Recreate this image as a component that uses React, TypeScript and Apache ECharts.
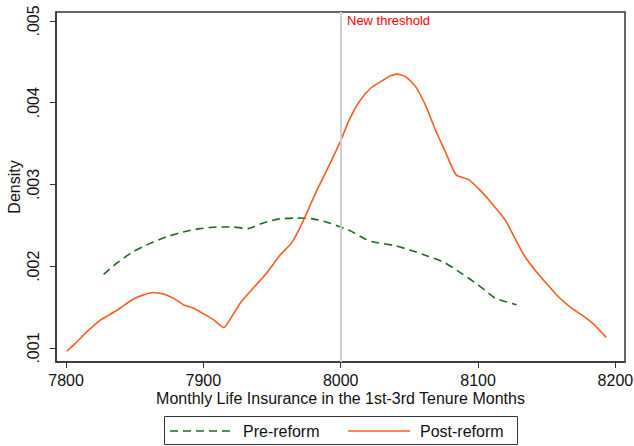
import React, { useEffect, useRef } from "react";
import * as echarts from "echarts";

const xTicks = [7800, 7900, 8000, 8100, 8200];
const yTicks = [0.001, 0.002, 0.003, 0.004, 0.005];
const threshold = 8000;
const seriesNames = ["Pre-reform", "Post-reform"];
const seriesColors = ["#1c6b1c", "#ff5a1f"];

const preX = [7827.4, 7837.1, 7849.1, 7861.2, 7873.3, 7885.4, 7897.5, 7909.6, 7921.6, 7932.5, 7943.4, 7955.5, 7967.6, 7979.6, 7991.7, 8006.2, 8017, 8023, 8040, 8052, 8064, 8076.2, 8088.2, 8100.3, 8112.4, 8119.6, 8128];
const preY = [0.0019, 0.00204, 0.00218, 0.00228, 0.00236, 0.00242, 0.00246, 0.00248, 0.00248, 0.00246, 0.00253, 0.00258, 0.00259, 0.00258, 0.00253, 0.00244, 0.00234, 0.0023, 0.00225, 0.00219, 0.00212, 0.00204, 0.00191, 0.00177, 0.00161, 0.00157, 0.00153];

const postX = [7800.6, 7806.9, 7815.3, 7825, 7831, 7839.5, 7849.1, 7856.4, 7863.6, 7870.9, 7878.1, 7885.4, 7892.6, 7899.9, 7907.1, 7914.9, 7920.5, 7927.7, 7936.2, 7945.8, 7955.5, 7964, 7968.8, 7973.7, 7982.1, 7990.6, 8000.1, 8006.2, 8013.4, 8021.9, 8030.3, 8036.3, 8041.1, 8047.2, 8054.4, 8061.7, 8068.9, 8076.2, 8083.9, 8093.1, 8102.7, 8110, 8119.6, 8126.9, 8134.1, 8142.6, 8149.8, 8158.3, 8167.9, 8177.6, 8184.9, 8193.3];
const postY = [0.00096, 0.00106, 0.0012, 0.00134, 0.0014, 0.00149, 0.0016, 0.00165, 0.00168, 0.00166, 0.00161, 0.00153, 0.00149, 0.00142, 0.00135, 0.00125, 0.00138, 0.00157, 0.00173, 0.00191, 0.00213, 0.00228, 0.00242, 0.00259, 0.00291, 0.0032, 0.00354, 0.00379, 0.00401, 0.00418, 0.00427, 0.00433, 0.00435, 0.00432, 0.0042, 0.00397, 0.00367, 0.0034, 0.00312, 0.00306, 0.00291, 0.00277, 0.00257, 0.00234, 0.00212, 0.00193, 0.00179, 0.00163, 0.00149, 0.00138, 0.00128, 0.00113];

const FONT = "Liberation Sans";

export default function App() {
  const ref = useRef<HTMLDivElement>(null);
  useEffect(() => {
    if (!ref.current) return;
    const chart = echarts.init(ref.current, null, { renderer: "svg" });
    const pre = preX.map((x, i) => [x, preY[i]]);
    const post = postX.map((x, i) => [x, postY[i]]);
    chart.setOption({
      animation: false,
      backgroundColor: "#ffffff",
      grid: {
        left: 56,
        top: 12,
        right: 9,
        bottom: 84,
        containLabel: false,
        outerBoundsMode: "none",
        show: true,
        borderColor: "#333333",
        borderWidth: 1.5,
      },
      xAxis: {
        type: "value",
        min: 7792.7,
        max: 8207,
        name: "Monthly Life Insurance in the 1st-3rd Tenure Months",
        nameLocation: "middle",
        nameGap: 28,
        nameMoveOverlap: false,
        nameTextStyle: { fontFamily: FONT, fontSize: 16, color: "#111" },
        axisLine: { show: true, onZero: false, lineStyle: { color: "#333", width: 1.5 } },
        axisTick: { show: true, length: 6, customValues: xTicks, lineStyle: { color: "#333" } },
        axisLabel: {
          customValues: xTicks,
          margin: 10,
          fontFamily: FONT,
          fontSize: 16,
          color: "#111",
          hideOverlap: false,
          formatter: (v: number) => String(Math.round(v)),
        },
        splitLine: { show: false },
      },
      yAxis: {
        type: "value",
        min: 0.000829,
        max: 0.00511,
        name: "Density",
        nameLocation: "middle",
        nameGap: 34,
        nameMoveOverlap: false,
        nameTextStyle: { fontFamily: FONT, fontSize: 16, color: "#111" },
        axisLine: { show: true, onZero: false, lineStyle: { color: "#333", width: 1.5 } },
        axisTick: { show: true, length: 6, customValues: yTicks, lineStyle: { color: "#333" } },
        axisLabel: {
          customValues: yTicks,
          rotate: 90,
          margin: 15,
          fontFamily: FONT,
          fontSize: 16,
          color: "#111",
          formatter: (v: number) => v.toFixed(3).replace(/^0/, ""),
        },
        splitLine: { show: false },
      },
      legend: { show: false },
      graphic: [
        {
          type: "text",
          left: 347,
          top: 14,
          style: { text: "New threshold", fill: "#ff0000", fontFamily: FONT, fontSize: 13 },
        },
        {
          type: "rect",
          shape: { x: 164.5, y: 416.5, width: 353, height: 28 },
          style: { fill: "#fff", stroke: "#333", lineWidth: 1 },
        },
        {
          type: "line",
          shape: { x1: 170, y1: 431, x2: 233, y2: 431 },
          style: { stroke: seriesColors[0], lineWidth: 1.6, lineDash: [8, 5] },
        },
        {
          type: "text",
          x: 243,
          y: 431,
          style: { text: seriesNames[0], fill: "#111", fontFamily: FONT, fontSize: 16, verticalAlign: "middle" },
        },
        {
          type: "line",
          shape: { x1: 348, y1: 431, x2: 410, y2: 431 },
          style: { stroke: seriesColors[1], lineWidth: 1.6 },
        },
        {
          type: "text",
          x: 420,
          y: 431,
          style: { text: seriesNames[1], fill: "#111", fontFamily: FONT, fontSize: 16, verticalAlign: "middle" },
        },
      ],
      series: [
        {
          name: seriesNames[0],
          type: "line",
          data: pre,
          symbol: "none",
          smooth: 0.2,
          lineStyle: { color: seriesColors[0], width: 1.6, type: [8, 5] },
          itemStyle: { color: seriesColors[0] },
          z: 3,
          markLine: {
            silent: true,
            symbol: "none",
            label: { show: false },
            lineStyle: { color: "#c6d4d4", width: 2, type: "solid" },
            data: [{ xAxis: threshold }],
          },
        },
        {
          name: seriesNames[1],
          type: "line",
          data: post,
          symbol: "none",
          smooth: 0.2,
          lineStyle: { color: seriesColors[1], width: 1.6 },
          itemStyle: { color: seriesColors[1] },
          z: 4,
        },
      ],
    });
    return () => chart.dispose();
  }, []);
  return (
    <div
      ref={ref}
      style={{ position: "absolute", left: 0, top: 0, width: 634, height: 446 }}
    />
  );
}
